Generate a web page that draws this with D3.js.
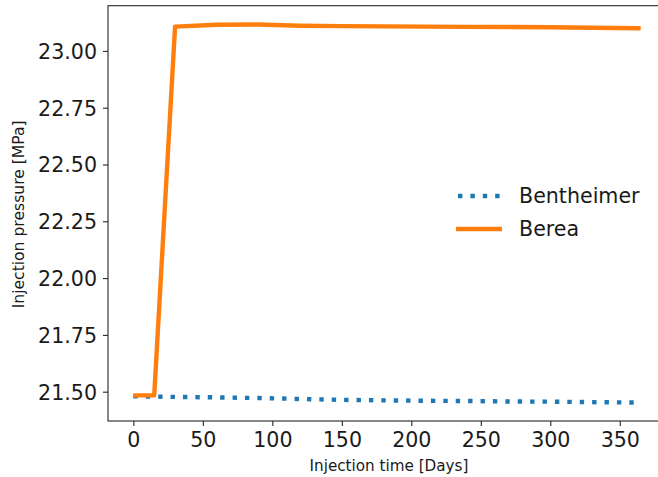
<!DOCTYPE html>
<html>
<head>
<meta charset="utf-8">
<script src="https://cdn.jsdelivr.net/npm/d3@7"></script>
<style>
  html, body { margin: 0; padding: 0; background: #fff; }
  svg { display: block; font-family: "DejaVu Sans", sans-serif; }
</style>
</head>
<body>
<svg id="chart" width="658" height="477"></svg>
<script>
// ---- data ----
const seriesNames = ["Bentheimer", "Berea"];
const benDays = [0, 30, 60, 90, 120, 150, 180, 210, 240, 270, 300, 330, 365];
const benPressure = [21.480, 21.477, 21.475, 21.472, 21.468, 21.464, 21.462, 21.460, 21.459, 21.457, 21.456, 21.454, 21.452];
const bereaDays = [0, 15, 30, 60, 90, 120, 150, 180, 210, 240, 270, 300, 330, 365];
const bereaPressure = [21.484, 21.484, 23.107, 23.115, 23.116, 23.111, 23.109, 23.108, 23.107, 23.106, 23.105, 23.104, 23.102, 23.100];
const xTicks = [0, 50, 100, 150, 200, 250, 300, 350];
const yTicks = [21.50, 21.75, 22.00, 22.25, 22.50, 22.75, 23.00];
const xDomain = [-18.25, 383.25];
const yDomain = [21.371, 23.199];

const svg = d3.select("#chart");
const L = 108, R = 666, T = 5.7, B = 421;
const x = d3.scaleLinear().domain(xDomain).range([L, R]);
const y = d3.scaleLinear().domain(yDomain).range([B, T]);
const axisColor = "#262626";

// axes
const xAxis = d3.axisBottom(x).tickValues(xTicks).tickFormat(d3.format("d")).tickSize(5).tickPadding(6);
const gx = svg.append("g").attr("transform", `translate(0,${B})`).call(xAxis);
const yAxis = d3.axisLeft(y).tickValues(yTicks).tickFormat(d3.format(".2f")).tickSize(5).tickPadding(6);
const gy = svg.append("g").attr("transform", `translate(${L},0)`).call(yAxis);
[gx, gy].forEach(g => {
  g.select(".domain").remove();
  g.selectAll(".tick line").attr("stroke", axisColor).attr("stroke-width", 1.1);
  g.selectAll(".tick text").attr("fill", "#1a1a1a").style("font-size", "20.6px").style("font-family", "DejaVu Sans, sans-serif");
});
gx.selectAll(".tick text").attr("dy", "0.71em");
gy.selectAll(".tick text").attr("dy", "0.36em");

// spines
svg.append("rect").attr("x", L).attr("y", T).attr("width", R - L).attr("height", B - T)
  .attr("fill", "none").attr("stroke", axisColor).attr("stroke-width", 1.1);

// axis labels
svg.append("text").attr("x", (L + R) / 2 + 2).attr("y", 471)
  .attr("text-anchor", "middle").style("font-size", "15.2px").attr("fill", "#1a1a1a")
  .text("Injection time [Days]");
svg.append("text").attr("transform", `translate(24,${(T + B) / 2 + 1}) rotate(-90)`)
  .attr("text-anchor", "middle").style("font-size", "15.6px").attr("fill", "#1a1a1a")
  .text("Injection pressure [MPa]");

// lines
const line = d3.line().x(d => x(d[0])).y(d => y(d[1]));
const benData = benDays.map((d, i) => [d, benPressure[i]]);
const bereaData = bereaDays.map((d, i) => [d, bereaPressure[i]]);
const colors = ["#1f77b4", "#ff7f0e"];

svg.append("path").datum(benData).attr("d", line)
  .attr("fill", "none").attr("stroke", colors[0]).attr("stroke-width", 4.4)
  .attr("stroke-dasharray", "4.4,8").attr("stroke-linecap", "butt");
svg.append("path").datum(bereaData).attr("d", line)
  .attr("fill", "none").attr("stroke", colors[1]).attr("stroke-width", 4.4)
  .attr("stroke-linejoin", "round").attr("stroke-linecap", "butt");

// legend
const legendY = [196, 229];
seriesNames.forEach((name, i) => {
  const g = svg.append("g");
  const ln = g.append("line").attr("x1", 456).attr("x2", 502).attr("y1", legendY[i]).attr("y2", legendY[i])
    .attr("stroke", colors[i]).attr("stroke-width", 4.4);
  if (i === 0) ln.attr("stroke-dasharray", "4.4,8").attr("x1", 458);
  g.append("text").attr("x", 519).attr("y", legendY[i]).attr("dy", "0.36em")
    .style("font-size", "20.6px").attr("fill", "#1a1a1a").text(name);
});
</script>
</body>
</html>
